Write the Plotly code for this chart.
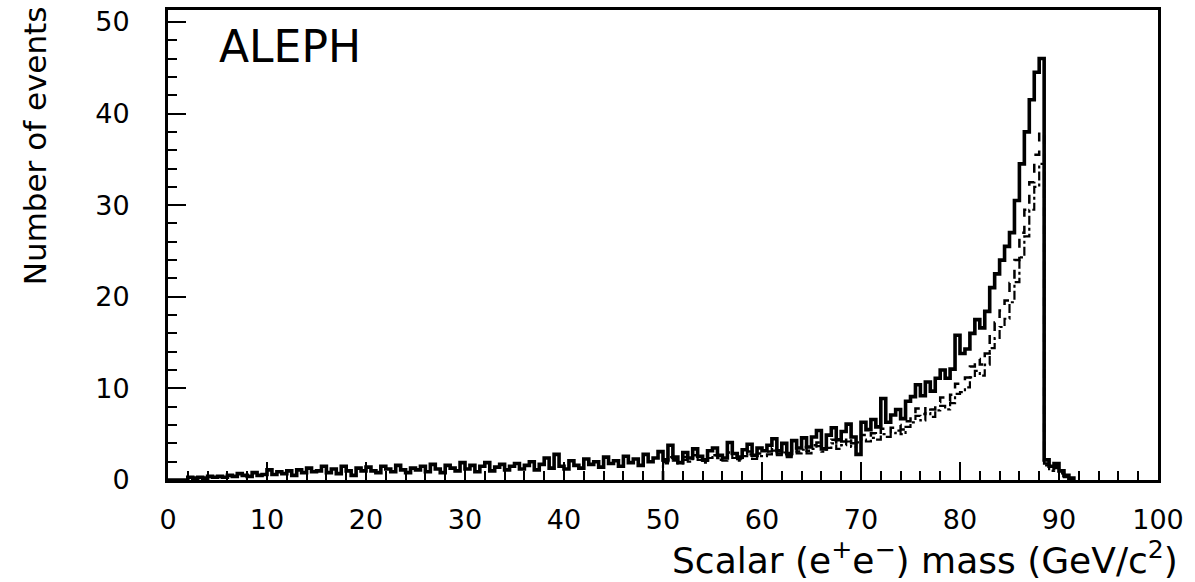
import numpy as np
import plotly.graph_objects as go

# ---------------- data (events per 0.5 GeV bin) ----------------
bin_width = 0.5
solid_start = 0.0
solid_counts = [
    # 0-5
    0, 0, 0, 0, 0.3, 0.2, 0.3, 0.2, 0.4, 0.3,
    # 5-10
    0.4, 0.3, 0.5, 0.4, 0.7, 0.5, 0.4, 0.8, 0.5, 0.6,
    # 10-15
    1.1, 0.6, 0.9, 0.7, 1.0, 0.5, 1.1, 0.8, 1.3, 0.9,
    # 15-20
    1.0, 1.5, 0.8, 1.2, 0.7, 1.5, 1.0, 0.5, 1.3, 1.0,
    # 20-25
    1.4, 1.0, 0.8, 1.5, 1.2, 0.9, 1.6, 1.1, 0.8, 1.3,
    # 25-30
    1.1, 1.5, 0.9, 1.7, 1.2, 0.8, 1.6, 1.3, 1.0, 1.9,
    # 30-35
    1.2, 1.6, 0.9, 1.5, 1.9, 1.0, 1.4, 1.7, 1.1, 1.5,
    # 35-40
    1.8, 1.2, 1.6, 2.0, 1.1, 1.7, 2.4, 1.3, 2.8, 1.5,
    # 40-45
    1.2, 2.1, 1.6, 1.3, 2.3, 1.7, 2.0, 1.4, 2.5, 1.8,
    # 45-50
    2.1, 1.5, 2.6, 1.9, 2.3, 1.6, 2.8, 2.0, 2.4, 3.1,
    # 50-55
    2.2, 3.8, 2.5, 1.9, 3.0, 2.4, 3.4, 2.6, 2.2, 3.2,
    # 55-60
    3.5, 2.7, 2.4, 4.1, 2.9, 2.5, 3.3, 3.9, 2.7, 3.5,
    # 60-65
    3.2, 3.8, 4.5, 3.2, 4.0, 2.9, 4.3, 3.5, 4.6, 3.6,
    # 65-70
    4.7, 5.4, 3.4, 4.9, 5.7, 4.4, 5.3, 6.1, 4.7, 2.8,
    # 70-75
    6.3, 5.5, 6.6, 5.8, 8.9, 6.3, 7.1, 7.7, 6.7, 8.6,
    # 75-80
    9.1, 10.4, 9.2, 10.7, 9.7, 11.1, 12.0, 11.1, 12.1, 15.8,
    # 80-85
    13.8, 14.3, 16.0, 17.5, 16.6, 18.4, 21.0, 22.5, 24.0, 25.5,
    # 85-88.5
    27.0, 30.5, 34.5, 38.0, 41.5, 44.5, 46.0,
    # 88.5-91.5
    2.2, 1.5, 1.8, 1.0, 0.5, 0.2,
]

lower_start = 50.0
dashed_counts = [
    2.0, 2.8, 2.3, 1.9, 2.5, 2.2, 2.7, 2.4, 2.1, 2.6,
    2.7, 2.4, 2.3, 3.0, 2.6, 2.3, 2.8, 3.1, 2.5, 2.9,
    2.8, 3.1, 3.5, 2.9, 3.3, 2.7, 3.5, 3.1, 3.6, 3.2,
    3.8, 4.1, 3.4, 3.9, 4.4, 3.8, 4.2, 4.7, 4.0, 4.5,
    4.9, 4.6, 5.1, 4.8, 5.6, 5.2, 5.7, 6.0, 5.5, 6.4,
    7.0, 7.8, 7.2, 8.1, 7.7, 8.5, 9.0, 8.6, 9.3, 10.5,
    10.6, 11.2, 12.4, 13.2, 12.6, 13.8, 16.0, 17.2, 18.5, 19.6,
    21.5, 24.0, 27.0, 29.5, 32.5, 35.5, 38.0,
    1.8, 1.2, 1.5, 0.8, 0.4, 0.2,
]
dotdash_counts = [
    1.8, 2.5, 2.1, 1.8, 2.2, 2.0, 2.4, 2.2, 1.9, 2.4,
    2.5, 2.2, 2.1, 2.7, 2.4, 2.1, 2.6, 2.8, 2.3, 2.6,
    2.6, 2.8, 3.2, 2.7, 3.0, 2.5, 3.2, 2.9, 3.3, 2.9,
    3.4, 3.7, 3.1, 3.5, 4.0, 3.4, 3.8, 4.2, 3.6, 4.1,
    4.4, 4.2, 4.6, 4.4, 5.0, 4.7, 5.1, 5.4, 5.0, 5.8,
    6.3, 7.0, 6.5, 7.3, 6.9, 7.6, 8.1, 7.7, 8.4, 9.4,
    9.6, 10.1, 11.2, 11.9, 11.4, 12.6, 14.4, 15.5, 16.7, 17.6,
    19.4, 21.6, 24.3, 26.6, 29.5, 32.0, 34.5,
    1.6, 1.0, 1.3, 0.7, 0.3, 0.2,
]

x_ticks = [0, 10, 20, 30, 40, 50, 60, 70, 80, 90, 100]
y_ticks = [0, 10, 20, 30, 40, 50]
x_title = "Scalar (e<sup>+</sup>e<sup>\u2212</sup>) mass (GeV/c<sup>2</sup>)"
y_title = "Number of events"
label_text = "ALEPH"


def step_xy(start, counts):
    edges = start + bin_width * np.arange(len(counts) + 1)
    ys = list(counts) + [0]
    xs = list(edges)
    return [xs[0]] + xs, [0] + ys


FONT = "DejaVu Sans"
fig = go.Figure()

for counts, start, dash, width in [
    (dotdash_counts, lower_start, "dashdot", 2.2),
    (dashed_counts, lower_start, "dash", 2.5),
    (solid_counts, solid_start, "solid", 3.6),
]:
    xs, ys = step_xy(start, counts)
    fig.add_trace(go.Scatter(
        x=xs, y=ys, mode="lines", line_shape="hv",
        line=dict(color="black", width=width, dash=dash),
        showlegend=False, hoverinfo="skip",
    ))

axis_common = dict(
    showline=True, linecolor="black", linewidth=3, mirror=True,
    ticks="inside", ticklen=18, tickwidth=2, tickcolor="black",
    showgrid=False, zeroline=False,
    tickfont=dict(family=FONT, size=27, color="black"),
)

fig.update_xaxes(
    range=[0, 100], tickvals=x_ticks, ticklabelstandoff=14,
    minor=dict(dtick=2, ticks="inside", ticklen=9, tickwidth=2,
               tickcolor="black", showgrid=False),
    **axis_common,
)
fig.update_yaxes(
    range=[0, 51.3], tickvals=y_ticks, ticklabelstandoff=30,
    minor=dict(dtick=2, ticks="inside", ticklen=9, tickwidth=2,
               tickcolor="black", showgrid=False),
    **axis_common,
)

fig.add_annotation(
    text=x_title, xref="paper", yref="paper", x=1.0225, y=-0.167,
    xanchor="right", yanchor="middle", showarrow=False,
    font=dict(family=FONT, size=36, color="black"),
)
fig.add_annotation(
    text=y_title, xref="paper", yref="paper", x=-0.135, y=0.711,
    xanchor="center", yanchor="middle", textangle=-90, showarrow=False,
    font=dict(family=FONT, size=31, color="black"),
)
fig.add_annotation(
    text=label_text, xref="paper", yref="paper", x=0.1232, y=0.922,
    xanchor="center", yanchor="middle", showarrow=False,
    font=dict(family=FONT, size=44, color="black"),
)

fig.update_layout(
    width=1195, height=582,
    margin=dict(l=168, r=37, t=6, b=102, pad=0),
    paper_bgcolor="white", plot_bgcolor="white",
)

fig.write_html("out.html")
